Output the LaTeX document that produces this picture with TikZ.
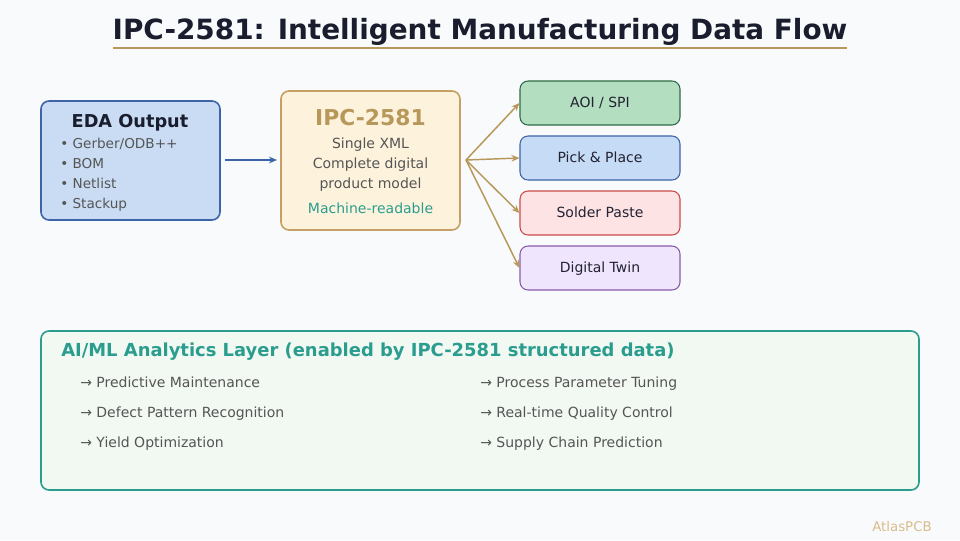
\documentclass[tikz,border=0pt]{standalone}
\usepackage{fontspec}
\setmainfont{DejaVu Sans}
\usetikzlibrary{arrows.meta}
\definecolor{bgc}{HTML}{F8FAFC}
\definecolor{titlec}{HTML}{1A1D2E}
\definecolor{gold}{HTML}{B8975A}
\definecolor{edafill}{HTML}{C9DCF3}
\definecolor{edadraw}{HTML}{3E64A8}
\definecolor{ipcfill}{HTML}{FDF3DC}
\definecolor{ipcdraw}{HTML}{C4A065}
\definecolor{txtgray}{HTML}{555555}
\definecolor{teal}{HTML}{2A9D8F}
\definecolor{aoifill}{HTML}{B3DFC0}
\definecolor{aoidraw}{HTML}{2E6B45}
\definecolor{pickfill}{HTML}{C6DBF5}
\definecolor{pickdraw}{HTML}{3E64A8}
\definecolor{solfill}{HTML}{FDE3E3}
\definecolor{soldraw}{HTML}{C94A4A}
\definecolor{digfill}{HTML}{EFE5FC}
\definecolor{digdraw}{HTML}{8A5AA8}
\definecolor{aifill}{HTML}{F2F8F2}
\definecolor{darktxt}{HTML}{222233}
\definecolor{wm}{HTML}{D9BC8C}
\tikzset{
  px/.style={font=\fontsize{#1}{#1}\selectfont},
  bpx/.style={font=\bfseries\fontsize{#1}{#1}\selectfont},
  box/.style={rounded corners=6pt, line width=1.2pt},
  outbox/.style={box, line width=0.8pt, minimum width=120pt, minimum height=33pt, inner sep=0pt},
  outtxt/.style={anchor=base, inner sep=0pt, text=darktxt, px=10.5pt},
  fan/.style={draw=gold, line width=1.1pt, -{Stealth[length=6pt,width=5pt]}},
  bl/.style={anchor=base west, px=10.2pt, text=txtgray, inner sep=0pt},
  ctr/.style={anchor=base, inner sep=0pt, px=10.5pt, text=txtgray},
  item/.style={anchor=base west, inner sep=0pt, px=10.5pt, text=txtgray},
}
\begin{document}
\begin{tikzpicture}[x=0.75pt,y=-0.75pt]
\fill[bgc] (0,0) rectangle (960,540);
\useasboundingbox (0,0) rectangle (960,540);
% title
\node[bpx=20.9pt, text=titlec, anchor=base, inner sep=0pt] (title) at (480,39.5) {IPC-2581: Intelligent Manufacturing Data Flow};
\draw[gold, line width=1.6pt] (113,48) -- (847,48);
% EDA box
\draw[box, fill=edafill, draw=edadraw] (41,101) rectangle (220,220);
\node[bpx=13.3pt, text=titlec, anchor=base, inner sep=0pt] (edat) at (130,127) {EDA Output};
\node[bl] (b1) at (60,148) {• Gerber/ODB++};
\node[bl] (b2) at (60,168) {• BOM};
\node[bl] (b3) at (60,188) {• Netlist};
\node[bl] (b4) at (60,208) {• Stackup};
\coordinate (eda) at (225,160);
\coordinate (ipcin) at (277,160);
\draw[edadraw, line width=1.8pt, -{Stealth[length=6pt,width=5pt]}] (eda) -- (ipcin);
% IPC box
\draw[box, fill=ipcfill, draw=ipcdraw] (281,91) rectangle (460,230);
\node[bpx=16.4pt, text=gold, anchor=base, inner sep=0pt] (ipct) at (370.5,125) {IPC-2581};
\node[ctr] (l1) at (370.5,148.3) {Single XML};
\node[ctr] (l2) at (370.5,168.3) {Complete digital};
\node[ctr] (l3) at (370.5,188.3) {product model};
\node[ctr, text=teal] (l4) at (370.5,213.3) {Machine-readable};
% output boxes
\node[outbox, fill=aoifill, draw=aoidraw] (aoi) at (600,103) {};
\node[outbox, fill=pickfill, draw=pickdraw] (pick) at (600,158) {};
\node[outbox, fill=solfill, draw=soldraw] (sol) at (600,213) {};
\node[outbox, fill=digfill, draw=digdraw] (dig) at (600,268) {};
\node[outtxt] (aoit) at (600,107.5) {AOI / SPI};
\node[outtxt] (pickt) at (600,162.5) {Pick \& Place};
\node[outtxt] (solt) at (600,217.5) {Solder Paste};
\node[outtxt] (digt) at (600,272.5) {Digital Twin};
\coordinate (src) at (466,160);
\draw[fan] (src) -- (aoi.west);
\draw[fan] (src) -- (pick.west);
\draw[fan] (src) -- (sol.west);
\draw[fan] (src) -- (dig.west);
% AI/ML box
\draw[box, fill=aifill, draw=teal] (41,331) rectangle (919,490);
\node[anchor=base west, inner sep=0pt, bpx=13.45pt, text=teal] (ait) at (61,356.5) {AI/ML Analytics Layer (enabled by IPC-2581 structured data)};
\node[item] (i1) at (80,387.7) {→ Predictive Maintenance};
\node[item] (i2) at (80,417.7) {→ Defect Pattern Recognition};
\node[item] (i3) at (80,447.7) {→ Yield Optimization};
\node[item] (i4) at (480,387.7) {→ Process Parameter Tuning};
\node[item] (i5) at (480,417.7) {→ Real-time Quality Control};
\node[item] (i6) at (480,447.7) {→ Supply Chain Prediction};
\node[px=10pt, text=wm, anchor=base, inner sep=0pt] (wmk) at (902,531.5) {AtlasPCB};
\end{tikzpicture}
\end{document}
